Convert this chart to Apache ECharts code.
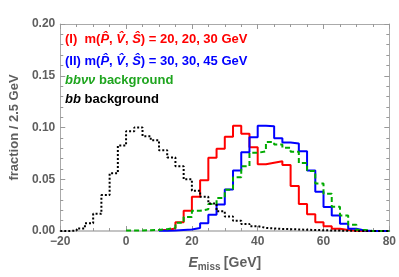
<!DOCTYPE html>
<html><head><meta charset="utf-8">
<script src="https://cdn.jsdelivr.net/npm/echarts@6/dist/echarts.min.js"></script>
<style>html,body{margin:0;padding:0;background:#fff}#c{width:399px;height:277px}</style>
</head><body><div id="c"></div>
<script>
const binWidth = 2.5;
const xTicks = [-20, 0, 20, 40, 60, 80];
const yTicks = [0.00, 0.05, 0.10, 0.15, 0.20];

const redStart = 10;
const redValues = [0.001, 0.0025, 0.0085, 0.0195, 0.033, 0.049, 0.0707, 0.0795, 0.091, 0.1017, 0.094, 0.081, 0.0645, 0.066, 0.0673, 0.0638, 0.0435, 0.026, 0.0163, 0.0084, 0.0047, 0.0022, 0.001, 0.0003, 0, 0, 0, 0];

const blueStart = 10;
const blueValues = [0.0003, 0.0005, 0.001, 0.0015, 0.003, 0.0075, 0.0158, 0.0256, 0.040, 0.0585, 0.0762, 0.0905, 0.1017, 0.1013, 0.0895, 0.0854, 0.0845, 0.077, 0.0585, 0.038, 0.0233, 0.015, 0.007, 0.0022, 0.0005, 0, 0, 0];

const greenStart = 0;
const greenValues = [0.0005, 0.0005, 0.0008, 0.001, 0.0018, 0.003, 0.008, 0.0135, 0.0195, 0.021, 0.026, 0.032, 0.0398, 0.052, 0.0626, 0.0755, 0.077, 0.086, 0.0835, 0.0804, 0.0766, 0.0657, 0.058, 0.046, 0.036, 0.0235, 0.015, 0.006, 0.001, 0, 0, 0];

const blackStart = -20;
const blackValues = [0.000, 0.0005, 0.0025, 0.0075, 0.0166, 0.0347, 0.0557, 0.0826, 0.0963, 0.1001, 0.0916, 0.0876, 0.078, 0.071, 0.0626, 0.050, 0.039, 0.033, 0.0266, 0.019, 0.014, 0.0098, 0.0067, 0.0047, 0.003, 0.0025, 0.002, 0.0018, 0.0015, 0.0012, 0.001, 0.0008, 0.0005, 0.0004, 0.0002, 0.0001, 0, 0, 0, 0];

function stepData(start, vals) {
  const d = vals.map((v, i) => [start + i * binWidth, v]);
  d.push([start + vals.length * binWidth, vals[vals.length - 1]]);
  return d;
}

const gray = '#999';
const labelColor = '#5f5f5f';
const font = 'Liberation Sans, Arial, sans-serif';

function xAxisCfg(pos, showLabel) {
  return {
    type: 'value', position: pos, min: xTicks[0], max: xTicks[xTicks.length - 1], interval: 20,
    axisLine: { show: true, onZero: false, lineStyle: { color: pos === 'bottom' ? '#c4c4c4' : '#aaa', width: pos === 'bottom' ? 2 : 1 } },
    axisTick: { show: true, inside: true, length: 5, lineStyle: { color: gray } },
    minorTick: { show: true, splitNumber: 4, length: 3, lineStyle: { color: gray } },
    splitLine: { show: false },
    axisLabel: { show: showLabel, margin: 5, color: labelColor, fontWeight: 'bold', fontSize: 12, fontFamily: font,
      formatter: v => v < 0 ? '\u2212' + Math.abs(v) : String(v) }
  };
}
function yAxisCfg(pos, showLabel) {
  return {
    type: 'value', position: pos, min: yTicks[0], max: yTicks[yTicks.length - 1], interval: 0.05,
    axisLine: { show: true, onZero: false, lineStyle: { color: '#aaa', width: 1 } },
    axisTick: { show: true, inside: true, length: 5, lineStyle: { color: gray } },
    minorTick: { show: true, splitNumber: 5, length: 3, lineStyle: { color: gray } },
    splitLine: { show: false },
    axisLabel: { show: showLabel, margin: 5, color: labelColor, fontWeight: 'bold', fontSize: 12, fontFamily: font,
      formatter: v => v.toFixed(2) }
  };
}

const chart = echarts.init(document.getElementById('c'), null, { renderer: 'canvas' });
const rich = (col) => ({
  n: { fill: col, fontWeight: 'bold', fontSize: 13, fontFamily: font },
  i: { fill: col, fontWeight: 'bold', fontStyle: 'italic', fontSize: 13, fontFamily: font }
});

const option = {
  animation: false,
  grid: { left: 48, right: 8, top: 24, bottom: 40 },
  xAxis: [
    Object.assign(xAxisCfg('bottom', true), {
      name: '{i|E}{s|miss} {n|[GeV]}', nameLocation: 'middle', nameGap: 24,
      nameTextStyle: { rich: {
        i: { fontStyle: 'italic', fontWeight: 'bold', fontSize: 14, color: labelColor, fontFamily: font },
        s: { fontWeight: 'bold', fontSize: 10, color: labelColor, fontFamily: font, padding: [7, 0, 0, 0] },
        n: { fontWeight: 'bold', fontSize: 14, color: labelColor, fontFamily: font }
      } }
    }),
    xAxisCfg('top', false)
  ],
  yAxis: [
    Object.assign(yAxisCfg('left', true), {
      name: 'fraction / 2.5 GeV', nameLocation: 'middle', nameGap: 32, nameRotate: 90,
      nameTextStyle: { color: labelColor, fontWeight: 'bold', fontSize: 13, fontFamily: font }
    }),
    yAxisCfg('right', false)
  ],
  graphic: [
    { type: 'text', left: 65, top: 33, style: { text: '{n|(I)  m(}{i|P\u0302}{n|, }{i|V\u0302}{n|, }{i|\u015C}{n|) = 20, 20, 30 GeV}', rich: rich('#ff0000') } },
    { type: 'text', left: 65, top: 55, style: { text: '{n|(II) m(}{i|P\u0302}{n|, }{i|V\u0302}{n|, }{i|\u015C}{n|) = 30, 30, 45 GeV}', rich: rich('#0000ff') } },
    { type: 'text', left: 65, top: 74, style: { text: '{i|bb\u03bd\u03bd}{n| background}', rich: rich('#1fa51f') } },
    { type: 'text', left: 65, top: 93, style: { text: '{i|bb}{n| background}', rich: rich('#000000') } }
  ],
  series: [
    { type: 'line', step: 'end', symbol: 'none', data: stepData(redStart, redValues), lineStyle: { color: '#ff0000', width: 2 }, z: 3 },
    { type: 'line', step: 'end', symbol: 'none', data: stepData(blueStart, blueValues), lineStyle: { color: '#0000ff', width: 2 }, z: 4 },
    { type: 'line', step: 'end', symbol: 'none', data: stepData(greenStart, greenValues), lineStyle: { color: '#00aa00', width: 2, type: [5, 3] }, z: 5 },
    { type: 'line', step: 'end', symbol: 'none', data: stepData(blackStart, blackValues), lineStyle: { color: '#000000', width: 2, type: [2, 2] }, z: 6 }
  ]
};
chart.setOption(option);
</script>
</body></html>
